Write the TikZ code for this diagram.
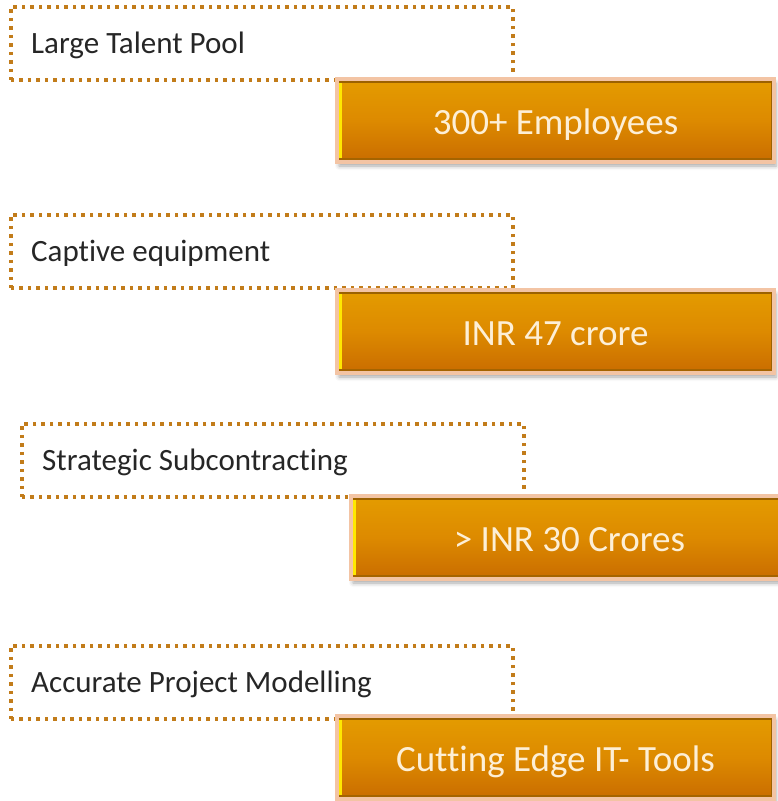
\documentclass[tikz,border=0pt]{standalone}
\usepackage{fontspec}
\setmainfont{Carlito}[Ligatures=NoCommon]
\usetikzlibrary{shadows.blur}
\definecolor{dotc}{HTML}{C27C1A}
\definecolor{peach}{HTML}{F3C4A4}
\definecolor{otop}{HTML}{E49C00}
\definecolor{omid}{HTML}{DD8A00}
\definecolor{obot}{HTML}{C96C00}
\definecolor{cream}{HTML}{FDEFD6}
\definecolor{bevdark}{HTML}{9C6200}
\definecolor{bevyel}{HTML}{FFE800}
\tikzset{
  dotbox/.style={rectangle, draw=dotc, line width=3.5pt, dash pattern=on 3.5pt off 5pt,
    minimum width=502pt, minimum height=73pt, anchor=north west},
  ltext/.style={anchor=west, inner sep=0pt, text=black!85,
    font=\fontsize{31}{36}\selectfont},
  obox/.style={rectangle, draw=peach, line width=4pt,
    top color=otop, bottom color=obot, middle color=omid,
    minimum width=437pt, minimum height=83pt, anchor=north west,
    text=cream, font=\fontsize{37}{42}\selectfont, text height=32pt, text depth=4pt,
    blur shadow={shadow xshift=2pt, shadow yshift=-4pt, shadow blur radius=4pt, shadow opacity=35},
    path picture={
      \fill[bevyel] ([xshift=2pt]path picture bounding box.north west) rectangle ([xshift=5pt]path picture bounding box.south west);
      \fill[bevdark] ([yshift=-2pt]path picture bounding box.north west) rectangle ([yshift=-3.5pt]path picture bounding box.north east);
      \fill[bevdark] ([xshift=-2pt]path picture bounding box.north east) rectangle ([xshift=-3.5pt]path picture bounding box.south east);
      \fill[bevdark!80!obot] ([yshift=2pt]path picture bounding box.south west) rectangle ([yshift=4pt]path picture bounding box.south east);
    }}
}
\begin{document}
\begin{tikzpicture}[x=1pt,y=-1pt]
\useasboundingbox (0,0) rectangle (778,801);
\node[dotbox] (d1) at (9,5) {};
\node[ltext] (t1) at ([xshift=22pt,yshift=-2pt]d1.west) {Large Talent Pool};
\node[obox] (o1) at (335,77) {300+ Employees};
\node[dotbox] (d2) at (9,213) {};
\node[ltext] (t2) at ([xshift=22pt,yshift=-2pt]d2.west) {Captive equipment};
\node[obox] (o2) at (335,288) {INR 47 crore};
\node[dotbox] (d3) at (20,422) {};
\node[ltext] (t3) at ([xshift=22pt,yshift=-2pt]d3.west) {Strategic Subcontracting};
\node[obox] (o3) at (349,494) {> INR 30 Crores};
\node[dotbox] (d4) at (9,644) {};
\node[ltext] (t4) at ([xshift=22pt,yshift=-2pt]d4.west) {Accurate Project Modelling};
\node[obox] (o4) at (335,714) {Cutting Edge IT- Tools};
\end{tikzpicture}
\end{document}
